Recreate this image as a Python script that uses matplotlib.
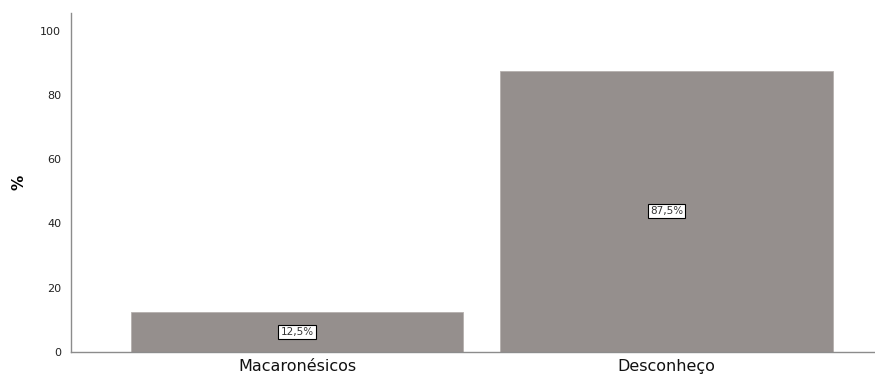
import matplotlib.pyplot as plt

# data
categories = ["Macaronésicos", "Desconheço"]
percentages = [12.5, 87.5]
value_labels = ["12,5%", "87,5%"]
y_ticks = [0, 20, 40, 60, 80, 100]

BAR_COLOR = "#958f8d"
AXIS_COLOR = "#8c8c8c"

fig = plt.figure(figsize=(8.75, 3.74), dpi=100)
ax = fig.add_axes([0.0811, 0.059, 0.919, 0.907])

x = range(len(categories))
ax.bar(x, percentages, width=0.9, color=BAR_COLOR, edgecolor="#b5b0ae", linewidth=0.6)

for xi, val, lab in zip(x, percentages, value_labels):
    ax.text(
        xi, val / 2, lab,
        ha="center", va="center", fontsize=7.5, color="#333333",
        bbox=dict(boxstyle="square,pad=0.2", facecolor="white", edgecolor="black", linewidth=0.8),
    )

ax.set_xlim(-0.612, 1.565)
ax.set_ylim(0, 105.6)
ax.set_yticks(y_ticks)
ax.set_yticklabels([str(t) for t in y_ticks], fontsize=8, color="#222222")
ax.set_xticks(list(x))
ax.set_xticklabels(categories, fontsize=11.5, color="#111111")
ax.tick_params(axis="both", length=0)
ax.tick_params(axis="y", pad=7)
ax.tick_params(axis="x", pad=5)

ax.set_ylabel("%", fontsize=11, fontweight="bold", labelpad=10)

for side in ["top", "right"]:
    ax.spines[side].set_visible(False)
for side in ["left", "bottom"]:
    ax.spines[side].set_color(AXIS_COLOR)
    ax.spines[side].set_linewidth(1.0)

plt.savefig("out.png", dpi=100)
